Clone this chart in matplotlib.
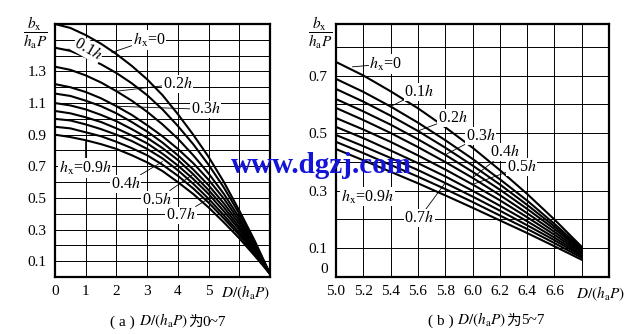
import matplotlib
matplotlib.use("Agg")
import matplotlib.pyplot as plt
from matplotlib.offsetbox import TextArea, HPacker, AnnotationBbox
from matplotlib.transforms import ScaledTranslation

plt.rcParams['mathtext.fontset'] = 'stix'
plt.rcParams['font.family'] = ['Liberation Serif', 'Noto Sans CJK SC']

# ---------------- data: panel (a) ----------------
xa = [0, 0.5, 1, 1.5, 2, 2.5, 3, 3.5, 4, 4.5, 5, 5.5, 6, 6.5, 7]
a_h00 = [1.60, 1.575, 1.53, 1.475, 1.41, 1.335, 1.25, 1.15, 1.03, 0.90, 0.76, 0.60, 0.42, 0.23, 0.02]
a_h01 = [1.45, 1.43, 1.39, 1.345, 1.29, 1.225, 1.15, 1.06, 0.955, 0.84, 0.71, 0.565, 0.40, 0.22, 0.02]
a_h02 = [1.33, 1.31, 1.275, 1.23, 1.175, 1.115, 1.045, 0.965, 0.875, 0.77, 0.655, 0.525, 0.375, 0.205, 0.02]
a_h03 = [1.22, 1.20, 1.17, 1.13, 1.08, 1.025, 0.96, 0.89, 0.81, 0.72, 0.615, 0.495, 0.355, 0.19, 0.02]
a_h04 = [1.16, 1.145, 1.115, 1.08, 1.035, 0.98, 0.92, 0.85, 0.77, 0.68, 0.58, 0.465, 0.335, 0.18, 0.02]
a_h05 = [1.10, 1.085, 1.06, 1.025, 0.985, 0.935, 0.88, 0.815, 0.74, 0.65, 0.55, 0.44, 0.315, 0.17, 0.02]
a_h06 = [1.05, 1.035, 1.01, 0.98, 0.94, 0.895, 0.845, 0.78, 0.705, 0.62, 0.525, 0.415, 0.30, 0.16, 0.02]
a_h07 = [1.00, 0.99, 0.965, 0.935, 0.90, 0.86, 0.81, 0.75, 0.675, 0.59, 0.495, 0.39, 0.28, 0.155, 0.02]
a_h08 = [0.95, 0.94, 0.915, 0.89, 0.855, 0.815, 0.77, 0.71, 0.64, 0.56, 0.47, 0.37, 0.265, 0.145, 0.02]
a_h09 = [0.90, 0.885, 0.865, 0.84, 0.81, 0.77, 0.725, 0.67, 0.60, 0.525, 0.44, 0.345, 0.245, 0.135, 0.02]
a_series = [a_h00, a_h01, a_h02, a_h03, a_h04, a_h05, a_h06, a_h07, a_h08, a_h09]
a_xticks = [0, 1, 2, 3, 4, 5]
a_xticklabels = ['0', '1', '2', '3', '4', '5']
a_yticks = [0.1, 0.3, 0.5, 0.7, 0.9, 1.1, 1.3]
a_yticklabels = ['0.1', '0.3', '0.5', '0.7', '0.9', '1.1', '1.3']

# ---------------- data: panel (b) ----------------
xb = [5.0, 5.2, 5.4, 5.6, 5.8, 6.0, 6.2, 6.4, 6.6, 6.8]
b_h00 = [0.748, 0.701, 0.646, 0.587, 0.521, 0.450, 0.372, 0.289, 0.200, 0.105]
b_h01 = [0.689, 0.644, 0.593, 0.537, 0.476, 0.411, 0.340, 0.266, 0.185, 0.100]
b_h02 = [0.654, 0.610, 0.561, 0.508, 0.450, 0.388, 0.322, 0.251, 0.176, 0.096]
b_h03 = [0.619, 0.576, 0.530, 0.479, 0.425, 0.366, 0.304, 0.237, 0.167, 0.092]
b_h04 = [0.588, 0.546, 0.501, 0.452, 0.400, 0.345, 0.285, 0.222, 0.157, 0.087]
b_h05 = [0.553, 0.513, 0.470, 0.423, 0.374, 0.322, 0.267, 0.208, 0.147, 0.083]
b_h06 = [0.522, 0.483, 0.440, 0.396, 0.350, 0.300, 0.248, 0.194, 0.137, 0.078]
b_h07 = [0.494, 0.455, 0.414, 0.372, 0.327, 0.280, 0.231, 0.180, 0.128, 0.073]
b_h08 = [0.470, 0.431, 0.390, 0.349, 0.306, 0.261, 0.214, 0.167, 0.118, 0.067]
b_h09 = [0.445, 0.406, 0.366, 0.326, 0.284, 0.241, 0.197, 0.153, 0.107, 0.060]
b_series = [b_h00, b_h01, b_h02, b_h03, b_h04, b_h05, b_h06, b_h07, b_h08, b_h09]
b_xticks = [5.0, 5.2, 5.4, 5.6, 5.8, 6.0, 6.2, 6.4, 6.6]
b_xticklabels = ['5.0', '5.2', '5.4', '5.6', '5.8', '6.0', '6.2', '6.4', '6.6']
b_yticks = [0.0, 0.1, 0.3, 0.5, 0.7]
b_yticklabels = ['0', '0.1', '0.3', '0.5', '0.7']

FS = 11
fig = plt.figure(figsize=(6.4, 3.34), dpi=100)
ax1 = fig.add_axes([55/640, 57/334, 215/640, 253/334])
ax2 = fig.add_axes([336/640, 57/334, 273/640, 253/334])

lab_kw = dict(fontsize=11.5, ha='center', va='center',
              bbox=dict(facecolor='white', edgecolor='none', pad=0.6))
arrow_kw = dict(arrowstyle='-', lw=0.6, color='black', shrinkA=0, shrinkB=0)

def style(ax, xlim, ylim, xgrid, ygrid):
    ax.set_xlim(*xlim)
    ax.set_ylim(*ylim)
    for v in xgrid:
        ax.axvline(v, color='black', lw=0.7, zorder=1)
    for v in ygrid:
        ax.axhline(v, color='black', lw=0.7, zorder=1)
    for sp in ax.spines.values():
        sp.set_linewidth(1.6)
    ax.tick_params(length=0, labelsize=FS, pad=6)

# ---- panel (a)
style(ax1, (0, 7), (0, 1.6), [1, 2, 3, 4, 5, 6],
      [0.1 * i for i in range(1, 16)])
for s in a_series:
    ax1.plot(xa, s, color='black', lw=1.5, zorder=2)
ax1.set_xticks(a_xticks, a_xticklabels)
ax1.set_yticks(a_yticks, a_yticklabels)
ax1.text(1.0, -0.025, r'$D/(h_{\mathrm{a}}P)$', transform=ax1.transAxes,
         ha='right', va='top', fontsize=FS)

ax1.annotate(r'$h_{\mathrm{x}}$=0', xy=(xa[4] - 0.15, a_h00[4] + 0.01), xytext=(3.06, 1.50),
             arrowprops=arrow_kw, zorder=4, **lab_kw)
ax1.annotate(r'0.1$h$', xy=(xa[0] + 0.2, a_h01[0] - 0.01), xytext=(1.07, 1.44),
             rotation=-30, arrowprops=arrow_kw, zorder=4, **lab_kw)
ax1.annotate(r'0.2$h$', xy=(xa[4], a_h02[4]), xytext=(4.0, 1.22),
             arrowprops=arrow_kw, zorder=4, **lab_kw)
ax1.annotate(r'0.3$h$', xy=(xa[4], a_h03[4]), xytext=(4.9, 1.06),
             arrowprops=arrow_kw, zorder=4, **lab_kw)
ax1.annotate(r'$h_{\mathrm{x}}$=0.9$h$', xy=(xa[2], a_h09[2]), xytext=(0.98, 0.69),
             arrowprops=arrow_kw, zorder=4, **lab_kw)
ax1.annotate(r'0.4$h$', xy=(xa[7], a_h04[7] - 0.12), xytext=(2.3, 0.59),
             arrowprops=arrow_kw, zorder=4, **lab_kw)
ax1.annotate(r'0.5$h$', xy=(xa[9], a_h05[9]), xytext=(3.32, 0.49),
             arrowprops=arrow_kw, zorder=4, **lab_kw)
ax1.annotate(r'0.7$h$', xy=(xa[10], a_h07[10]), xytext=(4.1, 0.39),
             arrowprops=arrow_kw, zorder=4, **lab_kw)

# ---- panel (b)
style(ax2, (5.0, 7.0), (0, 0.88), [5.2 + 0.2 * i for i in range(9)],
      [0.1 * i for i in range(1, 9)])
for s in b_series:
    ax2.plot(xb, s, color='black', lw=1.5, zorder=2)
ax2.set_xticks(b_xticks, b_xticklabels)
ax2.set_yticks(b_yticks, b_yticklabels)
zero_lab = ax2.get_yticklabels()[0]
zero_lab.set_transform(zero_lab.get_transform() + ScaledTranslation(0, 0.09, fig.dpi_scale_trans))
ax2.text(1.06, -0.03, r'$D/(h_{\mathrm{a}}P)$', transform=ax2.transAxes,
         ha='right', va='top', fontsize=FS)

ax2.annotate(r'$h_{\mathrm{x}}$=0', xy=(xb[1] - 0.08, b_h00[1] + 0.03), xytext=(5.365, 0.741),
             arrowprops=arrow_kw, zorder=4, **lab_kw)
ax2.annotate(r'0.1$h$', xy=(xb[2], b_h01[2]), xytext=(5.61, 0.643),
             arrowprops=arrow_kw, zorder=4, **lab_kw)
ax2.annotate(r'0.2$h$', xy=(xb[3], b_h02[3]), xytext=(5.855, 0.553),
             arrowprops=arrow_kw, zorder=4, **lab_kw)
ax2.annotate(r'0.3$h$', xy=(xb[4], b_h03[4]), xytext=(6.06, 0.49),
             arrowprops=arrow_kw, zorder=4, **lab_kw)
ax2.annotate(r'0.4$h$', xy=(xb[5], b_h04[5]), xytext=(6.24, 0.435),
             arrowprops=arrow_kw, zorder=4, **lab_kw)
ax2.annotate(r'0.5$h$', xy=(xb[5], b_h05[5]), xytext=(6.36, 0.383),
             arrowprops=arrow_kw, zorder=4, **lab_kw)
ax2.text(5.23, 0.28, r'$h_{\mathrm{x}}$=0.9$h$', zorder=4, **lab_kw)
ax2.annotate(r'0.7$h$', xy=(xb[4], b_h07[4]), xytext=(5.61, 0.205),
             arrowprops=arrow_kw, zorder=4, **lab_kw)

# ---- y-axis fraction labels
frac = r'$\dfrac{b_{\mathrm{x}}}{h_{\mathrm{a}}P}$'
fig.text(35/640, 1 - 33/334, frac, ha='center', va='center', fontsize=FS)
fig.text(320/640, 1 - 33/334, frac, ha='center', va='center', fontsize=FS)

# ---- captions
def caption(letter, rng, xc, yc):
    parts = [TextArea('( %s ) ' % letter, textprops=dict(fontsize=FS, family='Liberation Serif')),
             TextArea(r'$D/(h_{\mathrm{a}}P)$', textprops=dict(fontsize=FS)),
             TextArea('为', textprops=dict(fontsize=FS - 0.5, family='Noto Sans CJK SC')),
             TextArea(rng, textprops=dict(fontsize=FS, family='Liberation Serif'))]
    box = HPacker(children=parts, align='baseline', pad=0, sep=0)
    ab = AnnotationBbox(box, (xc, yc), xycoords='figure fraction', frameon=False,
                        box_alignment=(0.5, 0.5))
    fig.add_artist(ab)

caption('a', '0~7', 168/640, 1 - 321/334)
caption('b', '5~7', 486/640, 1 - 320/334)

# ---- watermark
fig.text(321/640, 1 - 165/334, 'www.dgzj.com', ha='center', va='center',
         fontsize=21, fontweight='bold', color='#1414d8', family='Liberation Serif', zorder=10)

fig.savefig('out.png', dpi=100)
